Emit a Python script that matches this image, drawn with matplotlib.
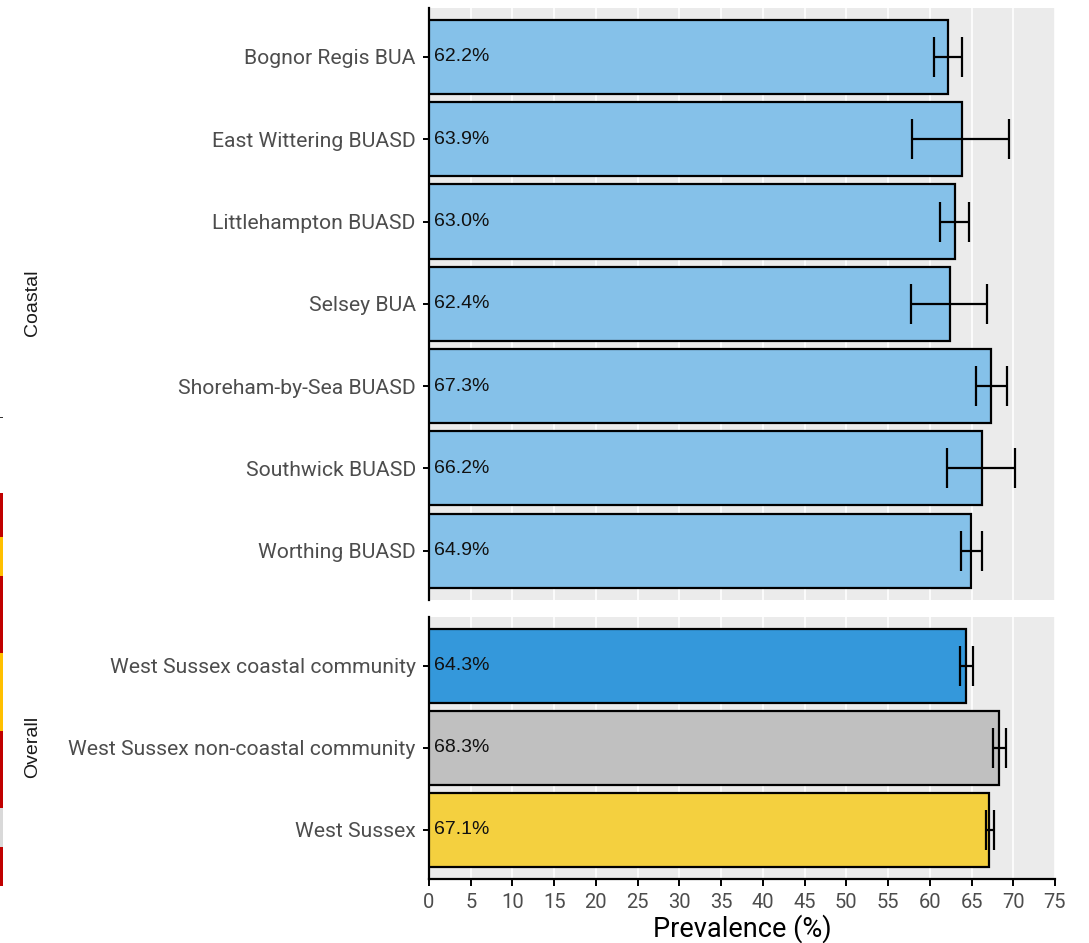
import matplotlib
matplotlib.use('Agg')
import matplotlib.pyplot as plt
from matplotlib.patches import Rectangle

# ---------------- data ----------------
coastal_names = ["Bognor Regis BUA", "East Wittering BUASD", "Littlehampton BUASD",
                 "Selsey BUA", "Shoreham-by-Sea BUASD", "Southwick BUASD", "Worthing BUASD"]
coastal_values = [62.2, 63.9, 63.0, 62.4, 67.3, 66.2, 64.9]
coastal_lower = [60.5, 57.9, 61.2, 57.8, 65.5, 62.1, 63.7]
coastal_upper = [63.9, 69.5, 64.7, 66.8, 69.2, 70.2, 66.2]

overall_names = ["West Sussex coastal community", "West Sussex non-coastal community", "West Sussex"]
overall_values = [64.3, 68.3, 67.1]
overall_lower = [63.6, 67.6, 66.7]
overall_upper = [65.2, 69.1, 67.7]

coastal_colors = ["#85C1E9"] * len(coastal_names)
overall_colors = ["#3498DB", "#C0C0C0", "#F4D03F"]

x_ticks = list(range(0, 80, 5))
x_label = "Prevalence (%)"
facet_labels = ["Coastal", "Overall"]

# ---------------- figure ----------------
W, H = 1089, 943
fig = plt.figure(figsize=(W / 100, H / 100), dpi=100)

def fy(py):
    return 1 - py / H

left = 429 / W
right = 1055 / W
ax1 = fig.add_axes([left, fy(600), right - left, fy(7.6) - fy(600)])
ax2 = fig.add_axes([left, fy(879), right - left, fy(616.6) - fy(879)])

tick_color = "#4D4D4D"

def draw_panel(ax, names, vals, lo, hi, colors, show_x):
    ys = list(range(len(names)))
    ax.set_facecolor("#EBEBEB")
    ax.barh(ys, vals, height=0.9, color=colors, edgecolor="black", linewidth=1.6, zorder=3)
    xerr = [[v - l for v, l in zip(vals, lo)], [h - v for v, h in zip(vals, hi)]]
    ax.errorbar(vals, ys, xerr=xerr, fmt='none', ecolor="black", elinewidth=1.6,
                capsize=14.5, capthick=1.6, zorder=4)
    for y, v in zip(ys, vals):
        ax.annotate(f"{v:.1f}%", xy=(0, y), xytext=(3.5, 0), textcoords="offset points",
                    ha="left", va="center", fontsize=14, family="Liberation Sans",
                    color="#111111", zorder=5)
    ax.set_xlim(0, 75)
    ax.set_ylim(len(names) - 0.4, -0.6)
    ax.set_yticks(ys)
    ax.set_yticklabels(names, fontsize=15.2, family="Roboto", color=tick_color)
    ax.set_xticks(x_ticks)
    ax.grid(axis="x", color="white", linewidth=1.2, zorder=0)
    ax.set_axisbelow(True)
    for s in ["top", "right"]:
        ax.spines[s].set_visible(False)
    ax.spines["left"].set_linewidth(1.6)
    ax.spines["left"].set_color("black")
    ax.tick_params(axis="y", length=4, width=1.4, color="black", pad=5.5)
    if show_x:
        ax.spines["bottom"].set_linewidth(1.6)
        ax.spines["bottom"].set_color("black")
        ax.set_xticklabels([str(t) for t in x_ticks], fontsize=14.5, family="Roboto", color=tick_color)
        ax.tick_params(axis="x", length=5, width=1.4, color="black", pad=5)
        ax.set_xlabel(x_label, fontsize=19.5, family="Roboto", color="black", labelpad=2)
    else:
        ax.spines["bottom"].set_visible(False)
        ax.tick_params(axis="x", length=0, labelbottom=False)

draw_panel(ax1, coastal_names, coastal_values, coastal_lower, coastal_upper, coastal_colors, False)
draw_panel(ax2, overall_names, overall_values, overall_lower, overall_upper, overall_colors, True)

# facet strip labels (left side)
fig.text(33 / W, fy(303), facet_labels[0], rotation=90, ha="center", va="center",
         fontsize=14, family="Liberation Sans", color="#1A1A1A")
fig.text(33 / W, fy(747), facet_labels[1], rotation=90, ha="center", va="center",
         fontsize=14, family="Liberation Sans", color="#1A1A1A")

# thin coloured edge strip at far left (crop artefact in reference)
strip = [(493, 537, "#C00000"), (537, 576, "#FFC000"), (576, 653, "#C00000"),
         (653, 731, "#FFC000"), (731, 808, "#C00000"), (808, 847, "#D9D9D9"),
         (847, 886, "#C00000")]
for y0, y1, c in strip:
    fig.add_artist(Rectangle((0, fy(y1)), 2.5 / W, (y1 - y0) / H, transform=fig.transFigure,
                             facecolor=c, edgecolor="none"))
fig.add_artist(Rectangle((0, fy(418)), 3 / W, 1.5 / H, transform=fig.transFigure,
                         facecolor="#333333", edgecolor="none"))

fig.savefig("out.png", dpi=100)
